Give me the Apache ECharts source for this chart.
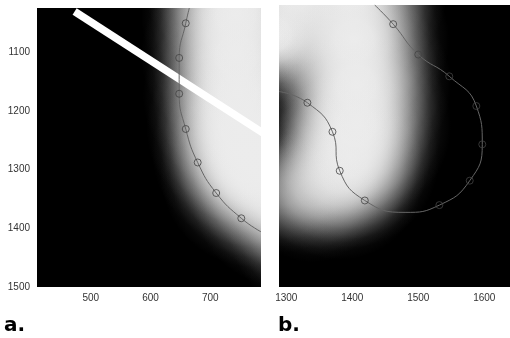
<!DOCTYPE html>
<html><head><meta charset="utf-8">
<script src="https://cdn.jsdelivr.net/npm/echarts@6/dist/echarts.min.js"></script>
<style>html,body{margin:0;padding:0;background:#fff}#c{width:510px;height:338px}</style>
</head><body><div id="c"></div>
<script>
// ---- data ----
const aXTicks = [500, 600, 700];
const aYTicks = [1100, 1200, 1300, 1400, 1500];
const bXTicks = [1300, 1400, 1500, 1600];

// panel a: contour curve and its control points
const aCurve = [[665,1025],[659,1051],[648,1110],[648,1171],[659,1231],[679,1288],[710,1340],[752,1383],[785,1406]];
const aMarkers = [[659,1051],[648,1110],[648,1171],[659,1231],[679,1288],[710,1340],[752,1383]];
// panel a: thick white straight line
const aBar = [[473,1031],[790,1239]];
// panel a: bright field, [x, y, radius, peak]
const aGlow = [[743,969,159,1],[743,1037,159,1],[743,1105,159,1],[746,1173,159,1],[752,1229,159,1],
               [761,1268,159,1],[775,1305,159,1],[828,1340,159,1],[888,1390,159,1]];

// panel b
const bCurve = [[1434,1000],[1462,1029],[1500,1075],[1547,1108],[1588,1153],[1597,1211],[1578,1266],
                [1532,1303],[1480,1314],[1419,1296],[1381,1251],[1370,1192],[1332,1148],[1289,1131]];
const bMarkers = [[1462,1029],[1500,1075],[1547,1108],[1588,1153],[1597,1211],[1578,1266],[1532,1303],
                  [1419,1296],[1381,1251],[1370,1192],[1332,1148]];
const bGlow = [[1283,1045,114,1],[1313,977,144,1],[1400,977,144,1],[1403,1053,144,1],[1406,1121,144,1],
               [1406,1182,144,1],[1396,1232,136,0.95],[1381,1257,129,0.75],[1339,1284,106,0.5],[1298,1284,91,0.35]];

// ---- rendering ----
const GRAY = '236,236,236';
const PROFILE = [[0,1],[0.2,0.93],[0.35,0.75],[0.5,0.5],[0.65,0.28],[0.8,0.1],[0.9,0.03],[1,0]];
function glowItem(params, api) {
  const c = api.coord([api.value(0), api.value(1)]);
  const r = api.size([api.value(2), api.value(2)])[0];
  const p = api.value(3);
  return {
    type: 'circle',
    shape: {cx: c[0], cy: c[1], r: r},
    style: {
      fill: {type: 'radial', x: 0.5, y: 0.5, r: 0.5,
        colorStops: PROFILE.map(s => ({offset: s[0], color: 'rgba(' + GRAY + ',' + (s[1] * p).toFixed(3) + ')'}))}
    }
  };
}
const labelStyle = {color: '#333', fontSize: 10, fontFamily: 'Liberation Sans, Arial, sans-serif', formatter: v => String(v)};

const chart = echarts.init(document.getElementById('c'), null, {renderer: 'canvas'});
chart.setOption({
  animation: false,
  backgroundColor: '#fff',
  grid: [
    {left: 37, top: 8, width: 224, height: 279, show: true, backgroundColor: '#000', borderWidth: 0},
    {left: 279, top: 5, width: 231, height: 282, show: true, backgroundColor: '#000', borderWidth: 0}
  ],
  xAxis: [
    {type: 'value', gridIndex: 0, min: 410, max: 785, axisLine: {show: false}, axisTick: {show: false},
     splitLine: {show: false}, axisLabel: Object.assign({customValues: aXTicks, margin: 6}, labelStyle)},
    {type: 'value', gridIndex: 1, min: 1289, max: 1639, axisLine: {show: false}, axisTick: {show: false},
     splitLine: {show: false}, axisLabel: Object.assign({customValues: bXTicks, margin: 6}, labelStyle)}
  ],
  yAxis: [
    {type: 'value', gridIndex: 0, min: 1025, max: 1500, inverse: true, axisLine: {show: false}, axisTick: {show: false},
     splitLine: {show: false}, axisLabel: Object.assign({customValues: aYTicks, margin: 7}, labelStyle)},
    {type: 'value', gridIndex: 1, min: 1000, max: 1427, inverse: true, show: false, splitLine: {show: false}}
  ],
  graphic: [
    {type: 'text', left: 4, top: 316, style: {text: 'a.', font: 'bold 20px "DejaVu Sans", Verdana, sans-serif', fill: '#000'}},
    {type: 'text', left: 278, top: 316, style: {text: 'b.', font: 'bold 20px "DejaVu Sans", Verdana, sans-serif', fill: '#000'}}
  ],
  series: [
    {type: 'custom', xAxisIndex: 0, yAxisIndex: 0, data: aGlow, renderItem: glowItem, clip: true, silent: true, z: 1},
    {type: 'custom', xAxisIndex: 1, yAxisIndex: 1, data: bGlow, renderItem: glowItem, clip: true, silent: true, z: 1},
    {type: 'line', xAxisIndex: 0, yAxisIndex: 0, data: aBar, showSymbol: false, clip: true, silent: true, z: 3,
     lineStyle: {color: '#fff', width: 7.5, cap: 'butt'}},
    {type: 'line', xAxisIndex: 0, yAxisIndex: 0, data: aCurve, smooth: true, showSymbol: false, clip: true, silent: true, z: 4,
     lineStyle: {color: '#666', width: 1}},
    {type: 'line', xAxisIndex: 1, yAxisIndex: 1, data: bCurve, smooth: true, showSymbol: false, clip: true, silent: true, z: 4,
     lineStyle: {color: '#666', width: 1}},
    {type: 'scatter', xAxisIndex: 0, yAxisIndex: 0, data: aMarkers, symbol: 'circle', symbolSize: 7, silent: true, z: 5,
     itemStyle: {color: 'rgba(0,0,0,0)', borderColor: '#444', borderWidth: 1}},
    {type: 'scatter', xAxisIndex: 1, yAxisIndex: 1, data: bMarkers, symbol: 'circle', symbolSize: 7, silent: true, z: 5,
     itemStyle: {color: 'rgba(0,0,0,0)', borderColor: '#444', borderWidth: 1}}
  ]
});
</script></body></html>
